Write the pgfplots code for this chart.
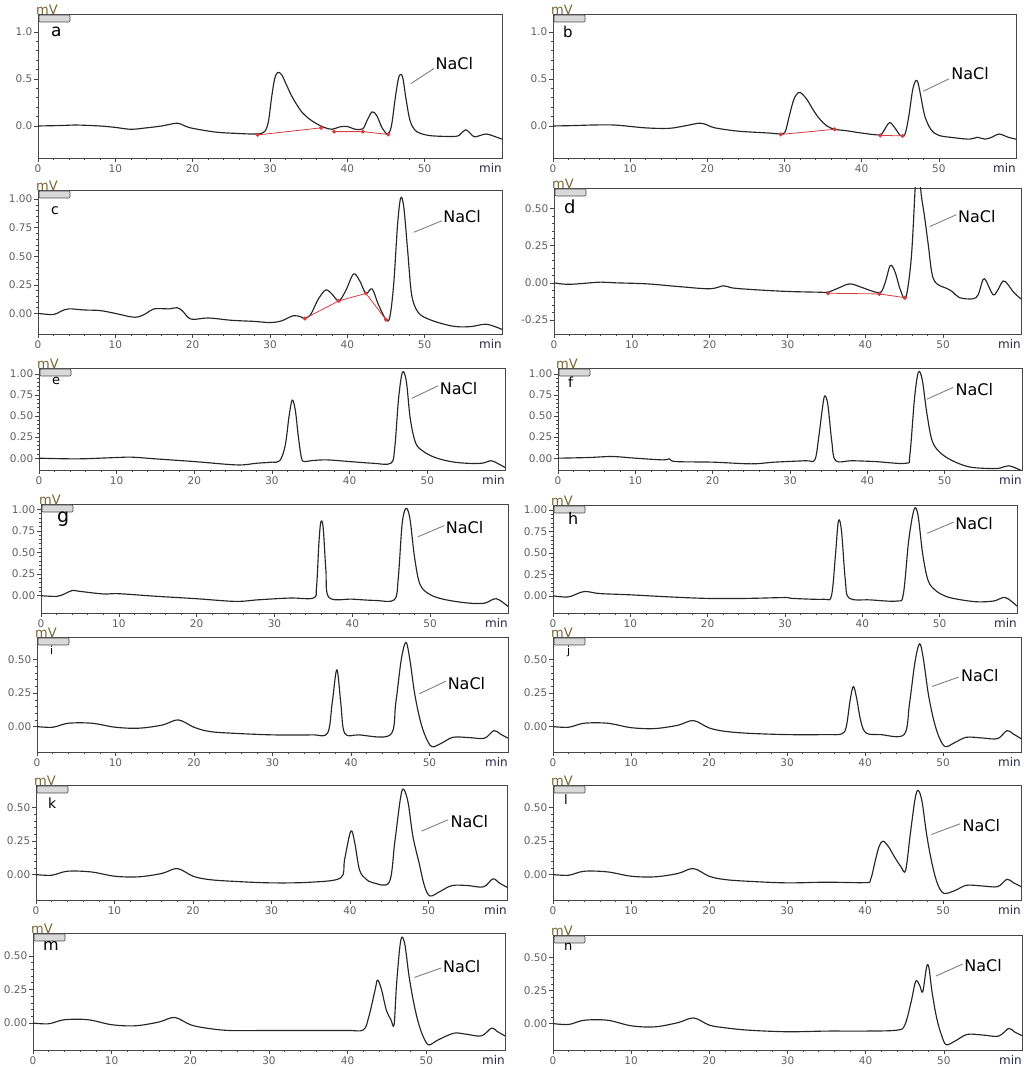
\documentclass[border=0pt]{standalone}
\usepackage{pgfplots}
\pgfplotsset{compat=1.18}
\usepackage{fontspec}
\setmainfont{DejaVu Sans}
\definecolor{tickgray}{RGB}{95,95,95}
\definecolor{axgray}{RGB}{70,70,70}
\definecolor{basered}{RGB}{215,60,60}
\definecolor{mvcol}{RGB}{120,100,50}
\definecolor{mincol}{RGB}{40,40,70}
\pgfplotsset{chrom/.style={scale only axis, anchor=north west, xmin=0, xmax=60,
  xtick={0,10,20,30,40,50}, minor x tick num=4, minor y tick num=4,
  tick align=outside, xtick pos=lower, ytick pos=left, clip mode=individual,
  axis line style={axgray, line width=0.8pt},
  tick style={axgray, line width=0.6pt},
  major tick length=4pt, minor tick length=2pt,
  tick label style={font=\fontsize{10.5}{10.5}\selectfont, text=tickgray, inner sep=1.5pt},
  xticklabel style={yshift=-1pt},
  /pgf/number format/assume math mode=true},
  curve/.style={black!85, line width=1.15pt, mark=none, smooth, tension=0.55, line join=round},
  red1/.style={draw=basered, line width=0.8pt, sharp plot, mark=*, mark size=1.6pt, mark options={fill=basered, draw=basered}},
  dec1/.style={yticklabel style={/pgf/number format/.cd, fixed, fixed zerofill, precision=1}},
  dec2/.style={yticklabel style={/pgf/number format/.cd, fixed, fixed zerofill, precision=2}}}
% #1 letter, #2 size, #3 xshift, #4 yshift, #5 #6 NaCl pos, #7 #8 leader
\newcommand{\decor}[9]{%
  \coordinate (tl) at (rel axis cs:0,1);
  \draw[axgray, fill=gray!30, line width=0.6pt, rounded corners=1pt] ([xshift=1pt,yshift=-1pt]tl) rectangle ([xshift=32pt,yshift=-8pt]tl);
  \node[anchor=south west, inner sep=0, xshift=-2pt, yshift=-1pt, font=\fontsize{13}{13}\selectfont, text=mvcol] at (rel axis cs:0,1) {mV};
  \node[anchor=north west, inner sep=0, xshift=#3pt, yshift=#4pt, font=\fontsize{#2}{#2}\selectfont] at (rel axis cs:0,1) {#1};
  \node[anchor=north east, inner sep=0, yshift=-5pt, font=\fontsize{12}{12}\selectfont, text=mincol] at (rel axis cs:1,0) {min};
  \node[anchor=west, inner sep=0, font=\fontsize{16}{16}\selectfont] at (axis cs:#5,#6) {NaCl};
  \draw[gray, line width=0.9pt] #7 -- #8;#9
}
\begin{document}
\begin{tikzpicture}
\useasboundingbox (0,0) rectangle (1028pt,1067pt);
% ---------- a ----------
\begin{axis}[chrom, dec1, at={(38pt,1053pt)}, width=464pt, height=144pt, ymin=-0.34, ymax=1.19, ytick={0,0.5,1}]
\addplot[curve] coordinates {(0,0) (3,0.005) (5,0.01) (8,0.0) (10,-0.015) (12,-0.035) (14,-0.02) (16,0) (18,0.03) (19,0.0) (20,-0.025) (23,-0.065) (26,-0.08) (28.3,-0.085) (29.3,-0.06) (29.8,0.05) (30.2,0.3) (30.6,0.5) (31,0.57) (31.5,0.545) (32,0.46) (32.5,0.37) (33,0.29) (34,0.16) (35,0.08) (36,0.025) (37,-0.015) (38,-0.035) (39,-0.01) (40,-0.005) (41,-0.035) (42,-0.03) (42.5,0.05) (43.2,0.15) (43.8,0.11) (44.5,-0.02) (45.2,-0.085) (45.7,0.0) (46.2,0.3) (46.6,0.5) (46.9,0.55) (47.2,0.5) (47.6,0.28) (48.1,0.06) (48.7,-0.04) (49.5,-0.08) (51,-0.105) (54,-0.11) (54.7,-0.08) (55.3,-0.04) (55.8,-0.07) (56.4,-0.115) (57.2,-0.1) (58,-0.085) (59,-0.11) (60,-0.14)};
\addplot[red1] coordinates {(28.4,-0.095) (36.6,-0.02)};
\addplot[red1] coordinates {(38.3,-0.06) (42.0,-0.06) (45.3,-0.09)};
\decor{a}{17}{13}{-13}{51.4}{0.66}{(axis cs:48.2,0.45)}{(axis cs:51.2,0.61)}{}
\end{axis}
% ---------- b ----------
\begin{axis}[chrom, dec1, at={(553pt,1053pt)}, width=463pt, height=144pt, ymin=-0.34, ymax=1.19, ytick={0,0.5,1}]
\addplot[curve] coordinates {(0,0) (3,0.005) (5,0.01) (8,0.01) (12,-0.02) (15,-0.025) (17,0) (19,0.03) (20,0.01) (21,-0.02) (24,-0.055) (28,-0.075) (29.5,-0.085) (30.1,-0.06) (30.6,0.1) (31.2,0.28) (31.8,0.355) (32.3,0.34) (33,0.27) (33.8,0.16) (34.6,0.07) (35.5,0.0) (36.5,-0.035) (38,-0.05) (40,-0.075) (42.3,-0.095) (42.8,-0.06) (43.6,0.035) (44.3,-0.02) (45,-0.1) (45.6,-0.09) (46.1,0.1) (46.6,0.38) (47,0.48) (47.3,0.46) (47.7,0.3) (48.2,0.1) (49,-0.04) (50,-0.1) (52,-0.125) (54,-0.14) (55,-0.12) (56,-0.14) (57,-0.115) (57.8,-0.085) (59,-0.12) (60,-0.14)};
\addplot[red1] coordinates {(29.5,-0.09) (36.5,-0.035)};
\addplot[red1] coordinates {(42.4,-0.1) (45.3,-0.105)};
\decor{b}{15}{10}{-12}{51.6}{0.56}{(axis cs:48,0.37)}{(axis cs:51.3,0.5)}{}
\end{axis}
% ---------- c ----------
\begin{axis}[chrom, dec2, at={(38pt,877pt)}, width=464pt, height=144pt, ymin=-0.18, ymax=1.08, ytick={0,0.25,0.5,0.75,1}]
\addplot[curve] coordinates {(0,0) (2,-0.01) (3,0.02) (4,0.04) (6,0.03) (8,0.025) (10,0) (12,-0.03) (13,-0.03) (14,0.0) (15,0.04) (17,0.04) (18,0.05) (18.7,0.02) (19.8,-0.05) (22,-0.04) (25,-0.06) (28,-0.07) (30,-0.08) (31.5,-0.065) (33,-0.02) (34,-0.03) (34.5,-0.045) (35.3,-0.005) (36.2,0.12) (37.2,0.205) (38,0.17) (38.9,0.11) (39.8,0.2) (40.8,0.345) (41.6,0.285) (42.4,0.175) (43.2,0.215) (44,0.08) (45,-0.055) (45.5,-0.03) (46,0.26) (46.5,0.78) (46.9,1.01) (47.3,0.93) (47.8,0.55) (48.3,0.17) (49,0.025) (50,-0.035) (52,-0.085) (54,-0.115) (56,-0.115) (58,-0.095) (60,-0.14)};
\addplot[red1] coordinates {(34.5,-0.045) (38.9,0.11) (42.4,0.175) (45.0,-0.055)};
\decor{c}{14}{13}{-16}{52.4}{0.85}{(axis cs:48.6,0.71)}{(axis cs:52.2,0.81)}{}
\end{axis}
% ---------- d ----------
\begin{axis}[chrom, dec2, at={(554pt,879pt)}, width=467pt, height=146pt, ymin=-0.345, ymax=0.64, ytick={-0.25,0,0.25,0.5}]
\addplot[curve] coordinates {(0,0) (2,-0.01) (6,0.005) (8,0.0) (12,-0.007) (16,-0.025) (20,-0.04) (21.8,-0.02) (23,-0.035) (26,-0.047) (30,-0.058) (34,-0.063) (35.2,-0.063) (36.5,-0.036) (38,-0.007) (39.5,-0.03) (41,-0.058) (42,-0.063) (42.6,0.01) (43.2,0.117) (43.8,0.076) (44.5,-0.047) (45.2,-0.1) (45.9,0.166) (46.4,0.64) (46.75,1.0) (47.1,0.64) (47.6,0.45) (48.1,0.25) (48.5,0.08) (48.9,0.01) (49.6,-0.02) (50.4,-0.036) (51.2,-0.06) (52.1,-0.1) (53.8,-0.108) (54.5,-0.08) (55.1,0.02) (55.5,0.015) (56.4,-0.08) (57,-0.05) (57.7,0.013) (58.3,-0.01) (59,-0.06) (59.8,-0.1) (60,-0.108)};
\addplot[red1] coordinates {(35.2,-0.07) (41.8,-0.075) (45.1,-0.1)};
\decor{d}{18}{10}{-12}{51.9}{0.45}{(axis cs:48.3,0.38)}{(axis cs:51.7,0.46)}{}
\end{axis}
% ---------- e ----------
\begin{axis}[chrom, dec2, at={(39pt,699pt)}, width=466pt, height=102pt, ymin=-0.14, ymax=1.07, ytick={0,0.25,0.5,0.75,1}]
\addplot[curve] coordinates {(0,0) (5,-0.008) (10,0.008) (12,0.012) (15,-0.008) (20,-0.04) (25.5,-0.08) (28,-0.06) (30,-0.047) (31,-0.03) (31.7,0.15) (32.2,0.5) (32.6,0.69) (33,0.57) (33.4,0.25) (33.8,0.0) (34.2,-0.04) (35,-0.03) (37,-0.02) (40,-0.04) (43,-0.06) (45.3,-0.06) (45.8,0.12) (46.3,0.71) (46.8,1.02) (47.3,0.91) (47.8,0.47) (48.5,0.18) (49.5,0.08) (51,0.008) (53,-0.04) (55,-0.06) (57,-0.06) (58.2,-0.03) (59,-0.06) (60,-0.11)};
\decor{e}{13}{13}{-9}{51.6}{0.83}{(axis cs:48,0.71)}{(axis cs:51.4,0.86)}{}
\end{axis}
% ---------- f ----------
\begin{axis}[chrom, dec2, at={(558pt,699pt)}, width=464pt, height=102pt, ymin=-0.14, ymax=1.07, ytick={0,0.25,0.5,0.75,1}]
\addplot[curve] coordinates {(0,0) (4,0.008) (7,0.02) (10,0) (13.5,-0.02) (14.4,-0.008) (15.2,-0.04) (20,-0.047) (25,-0.067) (28,-0.047) (32,-0.03) (33.2,-0.02) (33.7,0.24) (34.2,0.6) (34.5,0.74) (34.9,0.63) (35.4,0.2) (35.9,-0.03) (38,-0.03) (41,-0.04) (45,-0.06) (45.5,0.04) (46.1,0.71) (46.6,1.02) (47.1,0.93) (47.7,0.53) (48.4,0.2) (49.5,0.06) (51,-0.03) (53,-0.1) (55,-0.12) (57,-0.12) (58.3,-0.09) (60,-0.15)};
\decor{f}{14}{10}{-9}{51.4}{0.81}{(axis cs:47.7,0.70)}{(axis cs:51.1,0.84)}{}
\end{axis}
% ---------- g ----------
\begin{axis}[chrom, dec2, at={(41pt,563pt)}, width=467pt, height=109pt, ymin=-0.2, ymax=1.06, ytick={0,0.25,0.5,0.75,1}]
\addplot[curve] coordinates {(0,0) (2,-0.008) (3,0.02) (4,0.06) (5,0.05) (8,0.02) (10,0.023) (15,-0.008) (20,-0.035) (25,-0.066) (28,-0.047) (32,-0.027) (35,-0.027) (35.4,0.1) (35.7,0.6) (35.95,0.85) (36.25,0.79) (36.6,0.3) (37,-0.02) (40,-0.04) (43,-0.055) (45.4,-0.047) (45.9,0.2) (46.4,0.83) (46.9,1.01) (47.4,0.89) (48,0.44) (48.7,0.13) (50,0.012) (52,-0.047) (55,-0.086) (57,-0.086) (58.5,-0.035) (60,-0.125)};
\decor{g}{19}{16}{-8}{52}{0.79}{(axis cs:48.4,0.68)}{(axis cs:51.8,0.81)}{}
\end{axis}
% ---------- h ----------
\begin{axis}[chrom, dec2, at={(553pt,562pt)}, width=464pt, height=108pt, ymin=-0.2, ymax=1.06, ytick={0,0.25,0.5,0.75,1}]
\addplot[curve] coordinates {(0,0) (2,-0.012) (4,0.05) (6,0.027) (10,0.012) (15,-0.012) (20,-0.03) (25,-0.03) (30,-0.02) (31,-0.03) (35,-0.04) (36,0.0) (36.5,0.45) (36.9,0.87) (37.3,0.76) (37.8,0.18) (38.3,-0.027) (41,-0.047) (44.5,-0.06) (45.3,0.02) (46,0.65) (46.7,1.01) (47.2,0.94) (47.8,0.49) (48.5,0.18) (49.5,0.06) (51,-0.012) (53,-0.05) (55,-0.07) (57,-0.06) (58.5,-0.02) (60,-0.12)};
\decor{h}{16}{15}{-7}{52}{0.84}{(axis cs:48.4,0.73)}{(axis cs:51.8,0.86)}{}
\end{axis}
% ---------- i ----------
\begin{axis}[chrom, dec2, at={(37pt,430pt)}, width=471pt, height=115pt, ymin=-0.19, ymax=0.67, ytick={0,0.25,0.5}]
\addplot[curve] coordinates {(0,0) (2,-0.005) (4,0.025) (7,0.025) (10,-0.005) (13,-0.012) (16,0.012) (18,0.05) (20,-0.005) (22,-0.037) (25,-0.05) (30,-0.062) (35,-0.062) (37,-0.05) (37.6,0.175) (38.2,0.425) (38.7,0.175) (39.2,-0.05) (41,-0.062) (45,-0.062) (45.7,0.175) (46.4,0.5) (47,0.63) (47.5,0.5) (48.1,0.25) (48.8,0.05) (49.5,-0.075) (50.3,-0.15) (51.5,-0.125) (53,-0.08) (55,-0.082) (57,-0.087) (58.2,-0.03) (59,-0.055) (60,-0.087)};
\decor{i}{11}{13}{-9}{52.3}{0.325}{(axis cs:48.7,0.245)}{(axis cs:52.1,0.34)}{}
\end{axis}
% ---------- j ----------
\begin{axis}[chrom, dec2, at={(553pt,430pt)}, width=468pt, height=115pt, ymin=-0.19, ymax=0.67, ytick={0,0.25,0.5}]
\addplot[curve] coordinates {(0,0) (2,-0.005) (4,0.025) (7,0.025) (10,-0.008) (13,-0.015) (16,0.01) (18,0.045) (20,-0.01) (22,-0.035) (25,-0.05) (30,-0.06) (35,-0.06) (37,-0.055) (37.6,0.0) (38.1,0.2) (38.5,0.3) (38.9,0.22) (39.5,0.03) (40.2,-0.05) (42,-0.06) (45,-0.06) (45.7,0.17) (46.4,0.48) (47,0.62) (47.5,0.5) (48.1,0.25) (48.8,0.05) (49.5,-0.08) (50.3,-0.15) (51.5,-0.12) (53,-0.08) (55,-0.085) (57,-0.09) (58.2,-0.03) (59,-0.055) (60,-0.09)};
\decor{j}{11}{14}{-9}{52.3}{0.38}{(axis cs:48.6,0.3)}{(axis cs:52,0.37)}{}
\end{axis}
% ---------- k ----------
\begin{axis}[chrom, dec2, at={(36pt,282pt)}, width=471pt, height=115pt, ymin=-0.19, ymax=0.67, ytick={0,0.25,0.5}]
\addplot[curve] coordinates {(0,0) (2,-0.005) (4,0.025) (7,0.02) (10,-0.012) (13,-0.017) (16,0.008) (18,0.045) (20,-0.012) (22,-0.037) (25,-0.05) (30,-0.062) (35,-0.057) (38.8,-0.025) (39.3,0.11) (40.1,0.325) (40.6,0.24) (41.2,0.037) (42,-0.032) (43,-0.062) (45,-0.057) (45.7,0.24) (46.4,0.56) (46.8,0.64) (47.4,0.54) (48,0.29) (48.8,0.087) (49.5,-0.087) (50.2,-0.16) (51.5,-0.125) (53,-0.082) (55,-0.082) (57,-0.092) (58.2,-0.032) (59,-0.062) (60,-0.095)};
\decor{k}{14}{12}{-13}{52.8}{0.4}{(axis cs:49.1,0.325)}{(axis cs:52.5,0.41)}{}
\end{axis}
% ---------- l ----------
\begin{axis}[chrom, dec2, at={(553pt,282pt)}, width=468pt, height=115pt, ymin=-0.19, ymax=0.67, ytick={0,0.25,0.5}]
\addplot[curve] coordinates {(0,0) (2,-0.005) (4,0.025) (7,0.02) (10,-0.012) (13,-0.017) (16,0.008) (18,0.045) (20,-0.012) (22,-0.037) (25,-0.05) (30,-0.062) (35,-0.057) (40,-0.06) (40.7,-0.04) (41.3,0.1) (41.8,0.21) (42.3,0.25) (43,0.21) (43.8,0.13) (44.6,0.06) (45.2,0.03) (45.8,0.3) (46.4,0.56) (46.8,0.63) (47.3,0.55) (47.9,0.3) (48.6,0.08) (49.3,-0.07) (50.1,-0.14) (51.5,-0.12) (53,-0.08) (55,-0.085) (57,-0.09) (58.2,-0.035) (59,-0.06) (60,-0.09)};
\decor{l}{13}{11}{-9}{52.5}{0.37}{(axis cs:48.5,0.3)}{(axis cs:52.2,0.38)}{}
\end{axis}
% ---------- m ----------
\begin{axis}[chrom, dec2, at={(33pt,134pt)}, width=472pt, height=117pt, ymin=-0.2, ymax=0.67, ytick={0,0.25,0.5}]
\addplot[curve] coordinates {(0,0) (2,-0.005) (4,0.025) (7,0.025) (10,-0.012) (13,-0.02) (16,0.008) (18,0.042) (20,-0.012) (22,-0.037) (25,-0.055) (30,-0.055) (35,-0.055) (40,-0.055) (42,-0.05) (42.7,0.05) (43.5,0.25) (43.8,0.32) (44.3,0.25) (44.9,0.1) (45.5,0.025) (45.9,-0.012) (46.2,0.275) (46.6,0.55) (46.9,0.64) (47.3,0.575) (47.8,0.35) (48.4,0.15) (49,0) (49.6,-0.1) (50.3,-0.162) (51.5,-0.125) (53.5,-0.075) (55,-0.082) (57,-0.095) (58.3,-0.037) (59,-0.062) (60,-0.095)};
\decor{m}{16}{10}{-8}{52.1}{0.42}{(axis cs:48.5,0.34)}{(axis cs:51.9,0.41)}{}
\end{axis}
% ---------- n ----------
\begin{axis}[chrom, dec2, at={(553pt,132pt)}, width=469pt, height=115pt, ymin=-0.2, ymax=0.67, ytick={0,0.25,0.5}]
\addplot[curve] coordinates {(0,0) (2,-0.007) (4,0.025) (7,0.025) (10,-0.017) (13,-0.025) (16,0.007) (18,0.042) (20,-0.012) (22,-0.032) (25,-0.05) (30,-0.062) (35,-0.057) (40,-0.057) (44,-0.05) (45,-0.012) (45.8,0.16) (46.4,0.32) (46.9,0.29) (47.3,0.24) (47.8,0.43) (48.1,0.42) (48.5,0.235) (49.1,0.037) (49.7,-0.087) (50.3,-0.16) (51.5,-0.13) (53,-0.082) (55,-0.087) (57,-0.095) (58.3,-0.037) (59,-0.062) (60,-0.092)};
\decor{n}{13}{11}{-8}{52.6}{0.44}{(axis cs:49,0.36)}{(axis cs:52.4,0.45)}{}
\end{axis}
\end{tikzpicture}
\end{document}
